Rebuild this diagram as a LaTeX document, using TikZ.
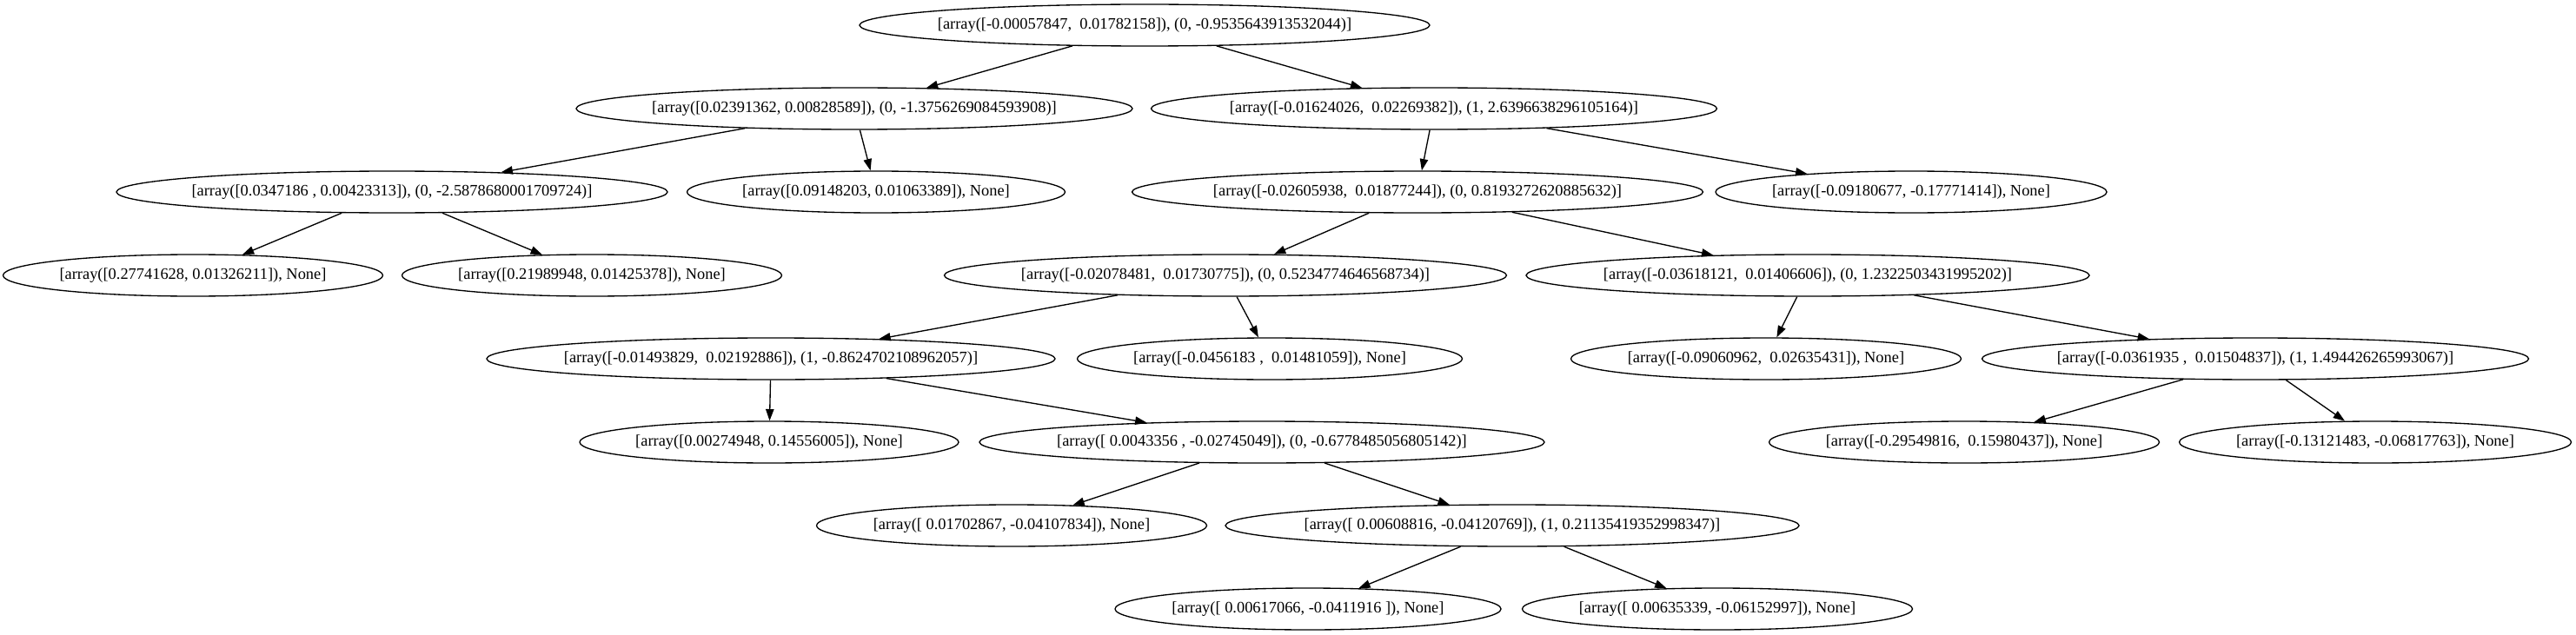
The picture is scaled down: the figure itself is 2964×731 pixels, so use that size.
\documentclass[tikz,border=0pt]{standalone}
\usepackage{fontspec}
\setmainfont{Liberation Serif}
\usetikzlibrary{shapes.geometric,arrows.meta}
\newcommand{\lbl}[1]{\makebox[0pt]{#1}}
\tikzset{
  tnode/.style={draw=black, ellipse, line width=1pt, inner sep=0pt,
    minimum height=36pt, minimum width=#1*0.75pt,
    font=\fontsize{13.8pt}{16pt}\selectfont},
  edge/.style={draw=black, line width=1pt, -{Triangle[length=10pt,width=7pt]}}
}
\begin{document}
\begin{tikzpicture}[x=0.75pt,y=-0.75pt]
\useasboundingbox (0,0) rectangle (2964,731);
\node[tnode=656] (root) at (1317,29) {\lbl{[array([-0.00057847,\ \ 0.01782158]), (0, -0.9535643913532044)]}};
\node[tnode=640] (A) at (983,125) {\lbl{[array([0.02391362, 0.00828589]), (0, -1.3756269084593908)]}};
\node[tnode=651] (B) at (1650,125) {\lbl{[array([-0.01624026,\ \ 0.02269382]), (1, 2.6396638296105164)]}};
\node[tnode=634] (C) at (451,221) {\lbl{[array([0.0347186\ , 0.00423313]), (0, -2.5878680001709724)]}};
\node[tnode=435] (D) at (1008,221) {\lbl{[array([0.09148203, 0.01063389]), None]}};
\node[tnode=657] (E) at (1631,221) {\lbl{[array([-0.02605938,\ \ 0.01877244]), (0, 0.8193272620885632)]}};
\node[tnode=450] (F) at (2199,221) {\lbl{[array([-0.09180677, -0.17771414]), None]}};
\node[tnode=437] (G) at (222,317) {\lbl{[array([0.27741628, 0.01326211]), None]}};
\node[tnode=437] (H) at (681,317) {\lbl{[array([0.21989948, 0.01425378]), None]}};
\node[tnode=647] (I) at (1410,317) {\lbl{[array([-0.02078481,\ \ 0.01730775]), (0, 0.5234774646568734)]}};
\node[tnode=648] (J) at (2080,317) {\lbl{[array([-0.03618121,\ \ 0.01406606]), (0, 1.2322503431995202)]}};
\node[tnode=654] (K) at (887,413) {\lbl{[array([-0.01493829,\ \ 0.02192886]), (1, -0.8624702108962057)]}};
\node[tnode=443] (L) at (1461,413) {\lbl{[array([-0.0456183\ ,\ \ 0.01481059]), None]}};
\node[tnode=449] (M) at (2032,413) {\lbl{[array([-0.09060962,\ \ 0.02635431]), None]}};
\node[tnode=629] (N) at (2595,413) {\lbl{[array([-0.0361935\ ,\ \ 0.01504837]), (1, 1.494426265993067)]}};
\node[tnode=436] (O) at (885,509) {\lbl{[array([0.00274948, 0.14556005]), None]}};
\node[tnode=650] (P) at (1452,509) {\lbl{[array([\ 0.0043356\ , -0.02745049]), (0, -0.6778485056805142)]}};
\node[tnode=449] (Q) at (2260,509) {\lbl{[array([-0.29549816,\ \ 0.15980437]), None]}};
\node[tnode=451] (R) at (2733,509) {\lbl{[array([-0.13121483, -0.06817763]), None]}};
\node[tnode=449] (S) at (1164,605) {\lbl{[array([\ 0.01702867, -0.04107834]), None]}};
\node[tnode=660] (T) at (1740,605) {\lbl{[array([\ 0.00608816, -0.04120769]), (1, 0.21135419352998347)]}};
\node[tnode=444] (U) at (1505,701) {\lbl{[array([\ 0.00617066, -0.0411916\ ]), None]}};
\node[tnode=449] (V) at (1976,701) {\lbl{[array([\ 0.00635339, -0.06152997]), None]}};
\draw[edge] (root) -- (A);
\draw[edge] (root) -- (B);
\draw[edge] (A) -- (C);
\draw[edge] (A) -- (D);
\draw[edge] (B) -- (E);
\draw[edge] (B) -- (F);
\draw[edge] (C) -- (G);
\draw[edge] (C) -- (H);
\draw[edge] (E) -- (I);
\draw[edge] (E) -- (J);
\draw[edge] (I) -- (K);
\draw[edge] (I) -- (L);
\draw[edge] (J) -- (M);
\draw[edge] (J) -- (N);
\draw[edge] (K) -- (O);
\draw[edge] (K) -- (P);
\draw[edge] (N) -- (Q);
\draw[edge] (N) -- (R);
\draw[edge] (P) -- (S);
\draw[edge] (P) -- (T);
\draw[edge] (T) -- (U);
\draw[edge] (T) -- (V);
\end{tikzpicture}
\end{document}
